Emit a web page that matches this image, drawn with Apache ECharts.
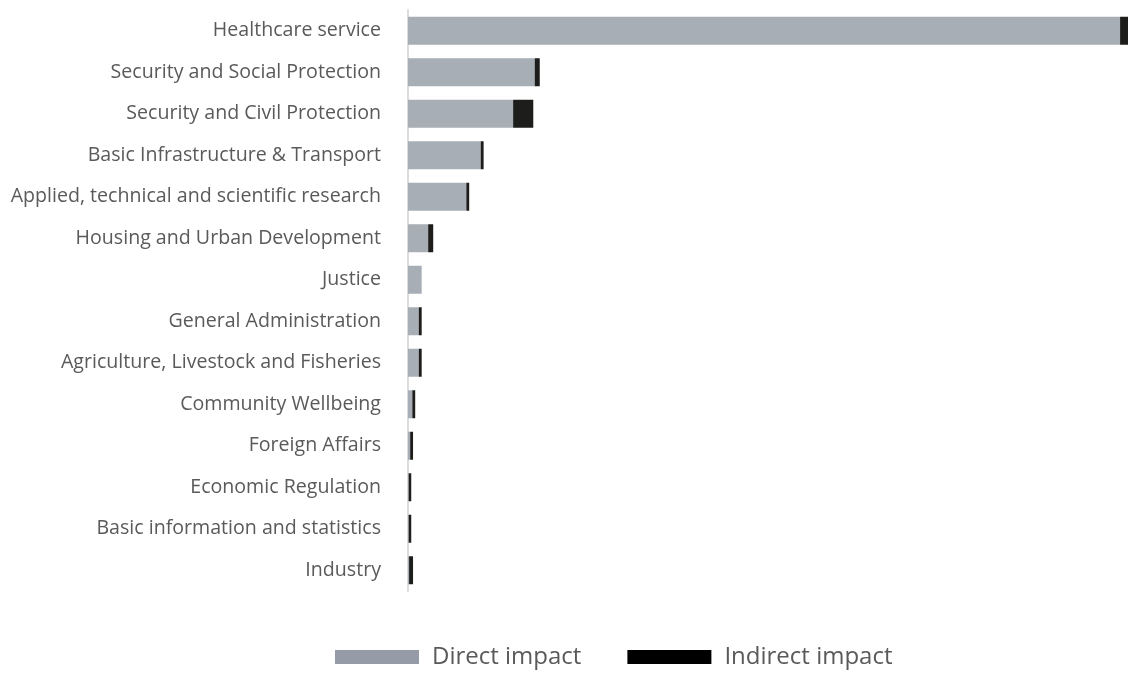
<!DOCTYPE html>
<html>
<head>
<meta charset="utf-8">
<script src="https://cdn.jsdelivr.net/npm/echarts@6/dist/echarts.min.js"></script>
<style>
    html, body { margin: 0; padding: 0; background: #fff; }
    #chart { width: 1128px; height: 673px; }
</style>
</head>
<body>
<div id="chart"></div>
<script>
var categories = [
    'Healthcare service',
    'Security and Social Protection',
    'Security and Civil Protection',
    'Basic Infrastructure & Transport',
    'Applied, technical and scientific research',
    'Housing and Urban Development',
    'Justice',
    'General Administration',
    'Agriculture, Livestock and Fisheries',
    'Community Wellbeing',
    'Foreign Affairs',
    'Economic Regulation',
    'Basic information and statistics',
    'Industry'
];
var directImpact = [98.9, 17.6, 14.6, 10.1, 8.1, 2.8, 1.9, 1.5, 1.5, 0.6, 0.3, 0.1, 0.1, 0.15];
var indirectImpact = [1.1, 0.7, 2.8, 0.4, 0.4, 0.7, 0, 0.4, 0.4, 0.4, 0.4, 0.35, 0.35, 0.55];

var chart = echarts.init(document.getElementById('chart'));
var option = {
    animation: false,
    textStyle: { fontFamily: 'Open Sans' },
    grid: { left: 408, right: 0, top: 10, height: 581 },
    legend: {
        left: 330,
        top: 640,
        itemWidth: 84,
        itemHeight: 14,
        itemGap: 46,
        icon: 'rect',
        textStyle: { fontSize: 24, color: '#5a5a5a', fontFamily: 'Open Sans', padding: [0, 0, 0, 8] },
        data: [
            { name: 'Direct impact', itemStyle: { color: '#969ca7' } },
            { name: 'Indirect impact', itemStyle: { color: '#000' } }
        ]
    },
    xAxis: {
        type: 'value',
        min: 0,
        max: 100,
        show: false
    },
    yAxis: {
        type: 'category',
        inverse: true,
        data: categories,
        axisLine: { lineStyle: { color: '#dcdcdc', width: 2 } },
        axisTick: { show: false },
        axisLabel: { fontSize: 19.6, color: '#5a5a5a', margin: 27, fontFamily: 'Open Sans' }
    },
    series: [
        {
            name: 'Direct impact',
            type: 'bar',
            stack: 'impact',
            barWidth: 28,
            itemStyle: { color: '#a7aeb5' },
            data: directImpact
        },
        {
            name: 'Indirect impact',
            type: 'bar',
            stack: 'impact',
            barWidth: 28,
            itemStyle: { color: '#1d1d1b' },
            data: indirectImpact
        }
    ]
};
chart.setOption(option);
</script>
</body>
</html>
